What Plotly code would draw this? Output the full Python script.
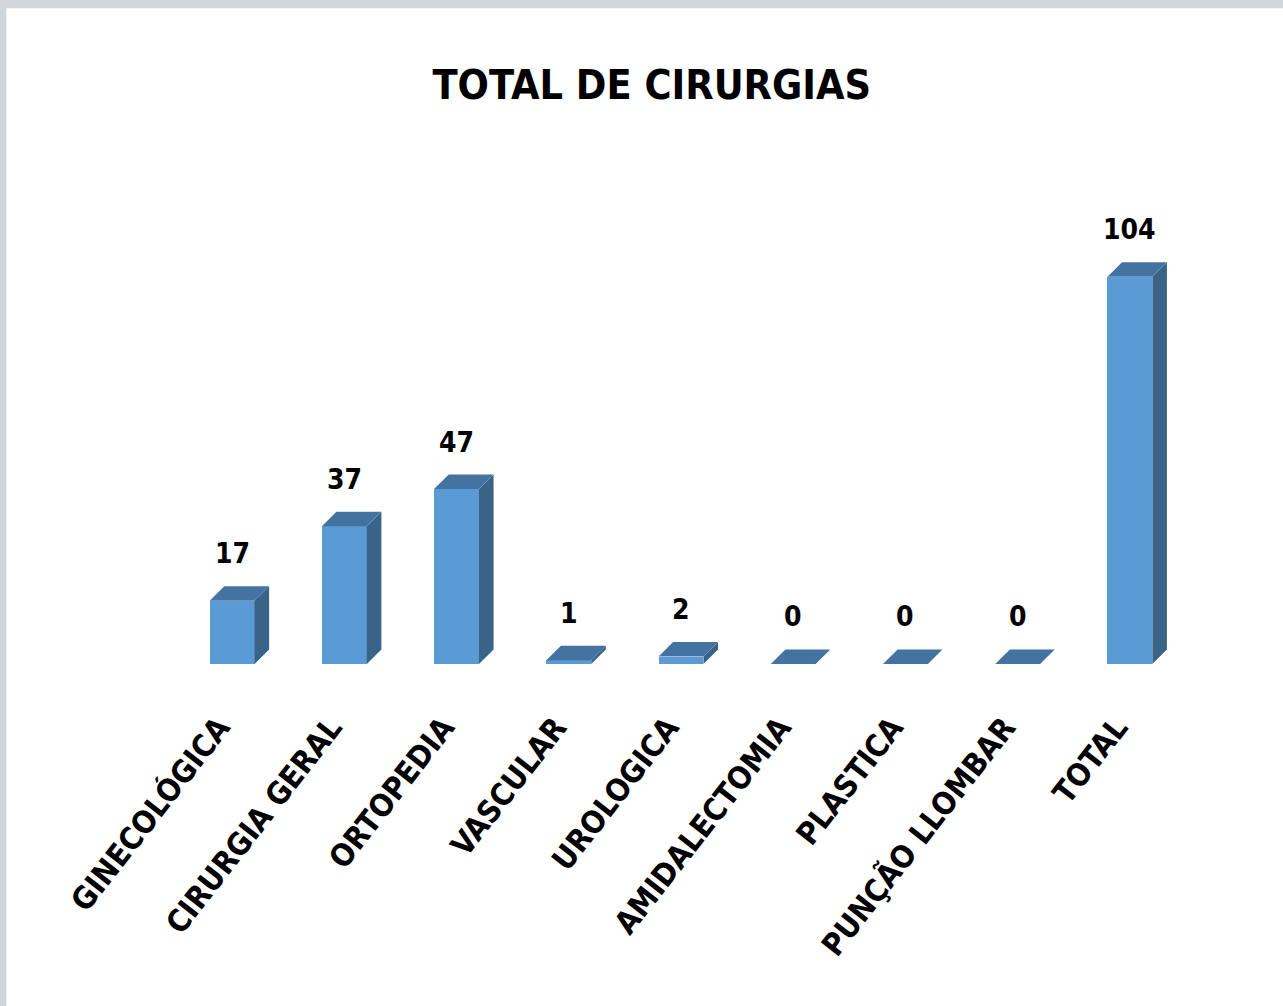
import plotly.graph_objects as go

# dados do gráfico
categorias = ['GINECOLÓGICA', 'CIRURGIA GERAL', 'ORTOPEDIA', 'VASCULAR', 'UROLOGICA',
              'AMIDALECTOMIA', 'PLASTICA', 'PUNÇÃO LLOMBAR', 'TOTAL']
valores = [17, 37, 47, 1, 2, 0, 0, 0, 104]

FONTE = "DejaVu Sans Condensed, Liberation Sans Narrow, Open Sans, sans-serif"
COR_FRENTE = '#5B9BD5'
COR_TOPO = '#4573A1'
COR_LADO = '#3A6388'

largura = 0.4   # largura da face frontal (unidades de categoria)
prof_x = 0.13   # profundidade do efeito 3D no eixo x
prof_y = 3.9    # profundidade do efeito 3D no eixo y

posicoes = list(range(len(categorias)))

fig = go.Figure()
fig.add_trace(go.Bar(
    x=posicoes, y=valores, width=largura,
    marker=dict(color=COR_FRENTE, line=dict(width=0)),
    hoverinfo='x+y', showlegend=False
))

# faces lateral e superior das barras (efeito 3D)
formas = []
for i, v in zip(posicoes, valores):
    x0, x1 = i - largura / 2, i + largura / 2
    lado = (f"M {x1},0 L {x1 + prof_x},{prof_y} L {x1 + prof_x},{v + prof_y} "
            f"L {x1},{v} Z")
    topo = (f"M {x0},{v} L {x0 + prof_x},{v + prof_y} L {x1 + prof_x},{v + prof_y} "
            f"L {x1},{v} Z")
    formas.append(dict(type='path', path=lado, xref='x', yref='y',
                       fillcolor=COR_LADO, line=dict(width=0), layer='above'))
    formas.append(dict(type='path', path=topo, xref='x', yref='y',
                       fillcolor=COR_TOPO, line=dict(width=0), layer='above'))

# moldura cinza do print (topo e esquerda)
formas.append(dict(type='rect', xref='paper', yref='paper',
                   x0=-0.168, x1=1.2, y0=-0.8, y1=1.355,
                   fillcolor='white', line=dict(width=0), layer='below'))

# rótulos de valor acima das barras
rotulos = [dict(x=i, y=v + prof_y, text=str(v), showarrow=False,
                yanchor='bottom', yshift=14,
                font=dict(family=FONTE, size=28, color='black', weight='bold'))
           for i, v in zip(posicoes, valores)]

fig.update_layout(
    width=1283, height=1006,
    margin=dict(l=176, r=97, t=180, b=342),
    paper_bgcolor='#D0D6DA',
    plot_bgcolor='rgba(0,0,0,0)',
    shapes=formas,
    annotations=rotulos,
    bargap=0,
    title=dict(text='<b>TOTAL DE CIRURGIAS</b>', x=0.508, xanchor='center',
               y=1 - 85 / 1006, yanchor='middle',
               font=dict(family=FONTE, size=41, color='black')),
    xaxis=dict(range=[-0.5, 8.5], tickvals=posicoes, ticktext=categorias,
               tickangle=-52, showgrid=False, zeroline=False, showline=False,
               ticklabelstandoff=38, ticklabelshift=-13,
               tickfont=dict(family=FONTE, size=31, color='black', weight='bold')),
    yaxis=dict(range=[0, 130], visible=False, showgrid=False, zeroline=False),
)

# remove a margem padrão do <body> para a figura ocupar a janela inteira
fig.write_html("out.html", config={'displayModeBar': False},
               post_script="document.body.style.margin='0';")
